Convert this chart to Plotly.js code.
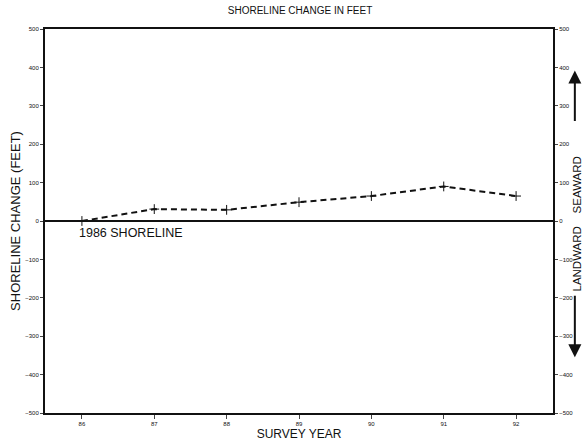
<!DOCTYPE html>
<html><head><meta charset="utf-8">
<script src="https://cdn.plot.ly/plotly-3.0.1.min.js"></script>
<style>body{margin:0;background:#fff}#c{width:586px;height:441px}</style>
</head><body><div id="c"></div>
<script>
const years = [86, 87, 88, 89, 90, 91, 92];
const yearLabels = ['86', '87', '88', '89', '90', '91', '92'];
const change = [0, 31, 29, 49, 65, 90, 65];
const yTicks = [-500, -400, -300, -200, -100, 0, 100, 200, 300, 400, 500];

const font = 'Liberation Sans, Arial, sans-serif';
const traces = [
  {x: years, y: change, type: 'scatter', mode: 'lines+markers',
   line: {color: '#111', dash: '6px,4px', width: 2},
   marker: {symbol: 'cross-thin', size: 7, line: {color: '#111', width: 1}},
   showlegend: false},
  {x: [86], y: [0], yaxis: 'y2', mode: 'none', type: 'scatter', showlegend: false, hoverinfo: 'skip'}
];
const layout = {
  width: 586, height: 441,
  margin: {l: 45, r: 33, t: 29, b: 28},
  paper_bgcolor: '#fff', plot_bgcolor: '#fff',
  font: {family: font, color: '#111', size: 7},
  title: {text: 'SHORELINE CHANGE IN FEET', x: 0.512, xanchor: 'center', y: 0.985, yanchor: 'top',
          font: {size: 10, family: font, color: '#111'}},
  xaxis: {range: [85.49, 92.51], tickvals: years, ticktext: yearLabels, ticks: 'outside', ticklen: 4,
          showline: true, linecolor: '#111', linewidth: 2, mirror: true, showgrid: false, zeroline: false,
          tickfont: {size: 6}, title: {text: 'SURVEY YEAR', font: {size: 12}, standoff: 1}},
  yaxis: {range: [-500, 500], tickvals: yTicks, ticks: 'outside', ticklen: 3, showline: true,
          linecolor: '#111', linewidth: 2, showgrid: false, zeroline: true, zerolinecolor: '#111', zerolinewidth: 2,
          tickfont: {size: 6}, title: {text: 'SHORELINE CHANGE (FEET)', font: {size: 13}, standoff: 2}},
  yaxis2: {range: [-500, 500], tickvals: yTicks, overlaying: 'y', side: 'right', ticks: 'outside', ticklen: 3,
           showline: true, linecolor: '#111', linewidth: 2, showgrid: false, zeroline: false, tickfont: {size: 6}},
  annotations: [
    {text: '1986 SHORELINE', xref: 'x', yref: 'y', x: 85.93, y: -8, xanchor: 'left', yanchor: 'top',
     showarrow: false, font: {size: 12.5, family: font}},
    {text: 'SEAWARD', xref: 'paper', yref: 'y', x: 1.047, y: 95, textangle: -90, showarrow: false,
     xanchor: 'center', yanchor: 'middle', font: {size: 11.5, family: font}},
    {text: 'LANDWARD', xref: 'paper', yref: 'y', x: 1.047, y: -98, textangle: -90, showarrow: false,
     xanchor: 'center', yanchor: 'middle', font: {size: 11.5, family: font}},
    {text: '', xref: 'paper', yref: 'y', x: 1.043, y: 392, ax: 0, ay: 52, showarrow: true,
     arrowhead: 2, arrowsize: 1.3, arrowwidth: 2, arrowcolor: '#111'},
    {text: '', xref: 'paper', yref: 'y', x: 1.043, y: -355, ax: 0, ay: -63, showarrow: true,
     arrowhead: 2, arrowsize: 1.3, arrowwidth: 2, arrowcolor: '#111'}
  ]
};
Plotly.newPlot('c', traces, layout, {displayModeBar: false, staticPlot: true});
</script></body></html>
